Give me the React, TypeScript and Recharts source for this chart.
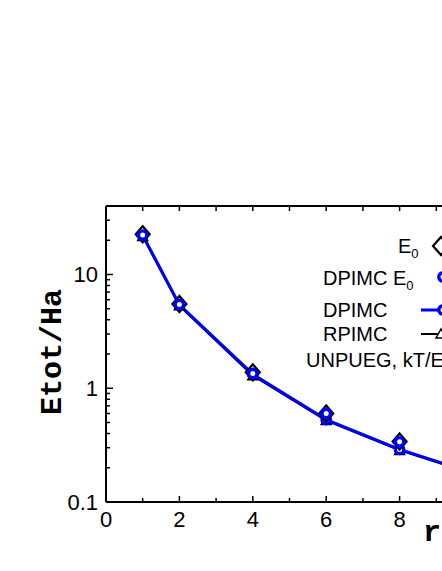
import React from "react";
import { LineChart, Line, XAxis, YAxis } from "recharts";

// r_s values and total energies (Ha)
const rs = [1, 2, 4, 6, 8, 10];
const e0 = [22.6, 5.5, 1.38, 0.6, 0.34, 0.205];
const dpimcE0 = [22.2, 5.45, 1.35, 0.6, 0.338, 0.2];
const dpimc = [22.2, 5.42, 1.33, 0.53, 0.29, 0.18];
const rpimc = [21.6, 5.3, 1.29, 0.52, 0.284, 0.177];

// every integer gets a tick, even ones get a label
const xTicks = [0, 1, 2, 3, 4, 5, 6, 7, 8, 9, 10];
const yMajor = [0.1, 1, 10];
const yTicks = [0.1, 0.2, 0.3, 0.4, 0.5, 0.6, 0.7, 0.8, 0.9, 1, 2, 3, 4, 5, 6, 7, 8, 9, 10, 20, 30];

const data = rs.map((r, i) => ({
  rs: r,
  e0: e0[i],
  dpimcE0: dpimcE0[i],
  dpimc: dpimc[i],
  rpimc: rpimc[i],
}));

const BLUE = "#0000ff";
const SANS = "Liberation Sans, Arial, sans-serif";
const MONO = "'Liberation Mono', 'Courier New', monospace";
const X_MARGIN = 9;
const Y_MARGIN = 8;

const diamond = (cx: number, cy: number, key?: string, s = 7) => (
  <path
    key={key}
    d={`M${cx},${cy - s - 1}L${cx + s},${cy}L${cx},${cy + s + 1}L${cx - s},${cy}Z`}
    fill="#fff"
    stroke="#000"
    strokeWidth={2.2}
  />
);
const circle = (cx: number, cy: number, key?: string) => (
  <circle key={key} cx={cx} cy={cy} r={4.2} fill="#fff" stroke={BLUE} strokeWidth={3.4} />
);
const triangle = (cx: number, cy: number, key?: string) => (
  <path
    key={key}
    d={`M${cx},${cy - 5}L${cx + 5},${cy + 4}L${cx - 5},${cy + 4}Z`}
    fill="#fff"
    stroke="#000"
    strokeWidth={1.5}
  />
);

const DiamondDot = (p: any) => diamond(p.cx, p.cy, `dm-${p.index}`);
const CircleDot = (p: any) => circle(p.cx, p.cy, `ci-${p.index}-${p.dataKey}`);
const TriangleDot = (p: any) => triangle(p.cx, p.cy, `tr-${p.index}`);

// inward tick marks drawn with the labels
const BottomTick = ({ x, y, payload }: any) => {
  const v = payload.value;
  const major = v % 2 === 0;
  const base = y - X_MARGIN;
  return (
    <g>
      <line x1={x} x2={x} y1={base} y2={base - (major ? 6 : 4)} stroke="#000" strokeWidth={1.5} />
      {major && (
        <text x={x} y={base + 25} textAnchor="middle" fontFamily={SANS} fontSize={22} fill="#000">
          {v}
        </text>
      )}
    </g>
  );
};

const TopTick = ({ x, y }: any) => (
  <line x1={x} x2={x} y1={y} y2={y + 5} stroke="#000" strokeWidth={1.5} />
);

const LeftTick = ({ x, y, payload }: any) => {
  const v = payload.value;
  const major = yMajor.includes(v);
  const base = x + Y_MARGIN;
  return (
    <g>
      <line x1={base} x2={base + (major ? 7 : 4)} y1={y} y2={y} stroke="#000" strokeWidth={1.5} />
      {major && (
        <text x={x} y={y} dy="0.355em" textAnchor="end" fontFamily={SANS} fontSize={22} fill="#000">
          {v}
        </text>
      )}
    </g>
  );
};

const XTitle = ({ viewBox }: any) => (
  <text
    x={viewBox.x + viewBox.width - 50}
    y={viewBox.y + 39}
    style={{ fontFamily: MONO, fontWeight: "bold", fontSize: 30, fill: "#000" }}
  >
    r<tspan dy={6} style={{ fontSize: 20 }}>s</tspan>
  </text>
);

const YTitle = ({ viewBox }: any) => {
  const cx = viewBox.x + 53;
  const cy = viewBox.y + viewBox.height / 2 - 2;
  return (
    <text
      x={cx}
      y={cy}
      transform={`rotate(-90, ${cx}, ${cy})`}
      textAnchor="middle"
      dominantBaseline="central"
      style={{ fontFamily: MONO, fontWeight: "bold", fontSize: 30, fill: "#000" }}
    >
      Etot/Ha
    </text>
  );
};

const LegendBox = () => (
  <svg width={442} height={571} style={{ position: "absolute", left: 0, top: 0, pointerEvents: "none" }}>
    <g fontFamily={SANS} fontSize={20} fill="#000">
      <text x={398} y={253}>
        E<tspan dy={5} fontSize={13}>0</tspan>
      </text>
      {diamond(441, 246, undefined, 8)}
      <text x={323} y={285}>
        DPIMC E<tspan dy={5} fontSize={13}>0</tspan>
      </text>
      {circle(443, 277)}
      <text x={323} y={317}>DPIMC</text>
      <line x1={421} x2={465} y1={310} y2={310} stroke={BLUE} strokeWidth={3} />
      {circle(443, 310)}
      <text x={323} y={341}>RPIMC</text>
      <line x1={421} x2={465} y1={334} y2={334} stroke="#000" strokeWidth={2} />
      {triangle(441, 334)}
      <text x={306} y={367}>
        UNPUEG, kT/E<tspan dy={5} fontSize={13}>F</tspan>
      </text>
    </g>
  </svg>
);

export default function App() {
  return (
    <div
      style={{
        position: "absolute",
        left: 0,
        top: 0,
        width: 442,
        height: 571,
        overflow: "hidden",
        background: "#fff",
      }}
    >
      <LineChart width={500} height={571} data={data} margin={{ top: 196, right: 27, bottom: 29, left: 0 }}>
        <XAxis
          xAxisId="x"
          dataKey="rs"
          type="number"
          domain={[0, 10]}
          allowDataOverflow
          ticks={xTicks}
          interval={0}
          tickLine={false}
          tickSize={0}
          tickMargin={X_MARGIN}
          height={40}
          axisLine={{ stroke: "#000", strokeWidth: 2 }}
          tick={<BottomTick />}
          label={{ content: <XTitle /> }}
        />
        <XAxis
          xAxisId="xTop"
          orientation="top"
          dataKey="rs"
          type="number"
          domain={[0, 10]}
          allowDataOverflow
          ticks={xTicks}
          interval={0}
          tickLine={false}
          tickSize={0}
          tickMargin={0}
          height={10}
          axisLine={{ stroke: "#000", strokeWidth: 2 }}
          tick={<TopTick />}
        />
        <YAxis
          yAxisId="y"
          type="number"
          scale="log"
          domain={[0.1, 40]}
          allowDataOverflow
          ticks={yTicks}
          interval={0}
          tickLine={false}
          tickSize={0}
          tickMargin={Y_MARGIN}
          width={106}
          axisLine={{ stroke: "#000", strokeWidth: 2 }}
          tick={<LeftTick />}
          label={{ content: <YTitle /> }}
        />

        <Line xAxisId="x" yAxisId="y" dataKey="rpimc" stroke="#000" strokeWidth={2}
          dot={TriangleDot} activeDot={false} isAnimationActive={false} />
        <Line xAxisId="x" yAxisId="y" dataKey="dpimc" stroke={BLUE} strokeWidth={3}
          dot={CircleDot} activeDot={false} isAnimationActive={false} />
        <Line xAxisId="x" yAxisId="y" dataKey="e0" stroke="none" strokeWidth={0}
          dot={DiamondDot} activeDot={false} isAnimationActive={false} />
        <Line xAxisId="x" yAxisId="y" dataKey="dpimcE0" stroke="none" strokeWidth={0}
          dot={CircleDot} activeDot={false} isAnimationActive={false} />
      </LineChart>
      <LegendBox />
    </div>
  );
}
